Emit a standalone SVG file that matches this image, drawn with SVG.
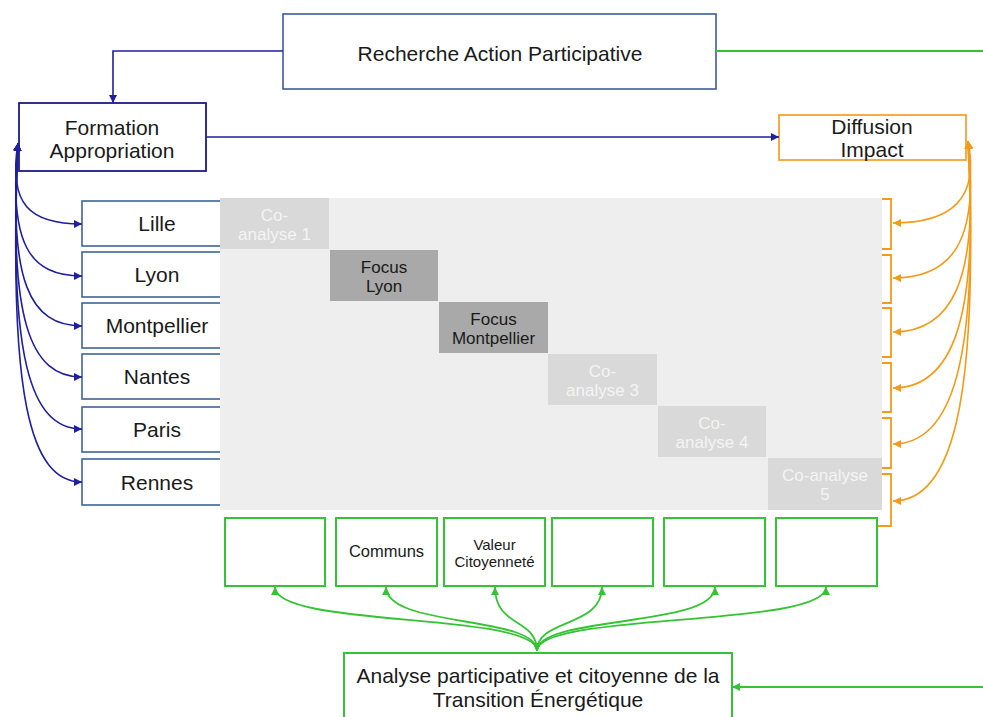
<svg xmlns="http://www.w3.org/2000/svg" width="983" height="717" viewBox="0 0 983 717">
<defs>
<style>
text{font-family:"Liberation Sans",Arial,sans-serif;text-anchor:middle;fill:#1a1a1a}
.big{font-size:21px}
.cell{font-size:17px}
.co{fill:#f4f4f4}
.city{fill:#fff;stroke:#3f6595;stroke-width:1.6}
.gbox{fill:#fff;stroke:#35c235;stroke-width:2}
.blue{fill:none;stroke:#1f1fa0;stroke-width:1.6}
.orange{fill:none;stroke:#f39a1b;stroke-width:1.6}
.green{fill:none;stroke:#33c433;stroke-width:1.8}
</style>
<marker id="ab" viewBox="0 0 10 10" refX="10" refY="5" markerWidth="8" markerHeight="8" markerUnits="userSpaceOnUse" orient="auto-start-reverse"><path d="M0,0 L10,5 L0,10 z" fill="#1f1fa0"/></marker>
<marker id="ao" viewBox="0 0 10 10" refX="10" refY="5" markerWidth="8" markerHeight="8" markerUnits="userSpaceOnUse" orient="auto-start-reverse"><path d="M0,0 L10,5 L0,10 z" fill="#f39a1b"/></marker>
<marker id="ag" viewBox="0 0 10 10" refX="10" refY="5" markerWidth="8" markerHeight="8" markerUnits="userSpaceOnUse" orient="auto-start-reverse"><path d="M0,0 L10,5 L0,10 z" fill="#33c433"/></marker>
</defs>
<rect width="983" height="717" fill="#fff"/>

<g id="recherche">
<rect x="283" y="14" width="433" height="75" fill="#fff" stroke="#3d5a99" stroke-width="1.6"/>
<text class="big" x="500" y="61">Recherche Action Participative</text>
</g>
<g id="formation">
<rect x="19" y="103" width="187" height="68" fill="#fff" stroke="#1c1c80" stroke-width="1.8"/>
<text class="big" x="112" y="135">Formation</text>
<text class="big" x="112" y="158">Appropriation</text>
</g>
<g id="diffusion">
<rect x="779" y="115" width="187" height="45" fill="#fff" stroke="#f5a235" stroke-width="1.8"/>
<text class="big" x="872" y="134">Diffusion</text>
<text class="big" x="872" y="157">Impact</text>
</g>

<g id="cities">
<g id="lille"><rect class="city" x="82" y="201" width="150" height="45"/><text class="big" x="157" y="231">Lille</text></g>
<g id="lyon"><rect class="city" x="82" y="252" width="150" height="45"/><text class="big" x="157" y="282">Lyon</text></g>
<g id="montpellier"><rect class="city" x="82" y="303" width="150" height="45"/><text class="big" x="157" y="333">Montpellier</text></g>
<g id="nantes"><rect class="city" x="82" y="354" width="150" height="45"/><text class="big" x="157" y="384">Nantes</text></g>
<g id="paris"><rect class="city" x="82" y="407" width="150" height="45"/><text class="big" x="157" y="437">Paris</text></g>
<g id="rennes"><rect class="city" x="82" y="459" width="150" height="46"/><text class="big" x="157" y="490">Rennes</text></g>
</g>

<g id="grid">
<rect x="220" y="198" width="662" height="312" fill="#eeeeee"/>
<g id="co1"><rect x="220" y="198" width="109" height="51" fill="#d9d9d9"/><text class="cell co" x="274.5" y="221">Co-</text><text class="cell co" x="274.5" y="240">analyse 1</text></g>
<g id="focus-lyon"><rect x="330" y="250" width="108" height="51" fill="#a9a9a9"/><text class="cell" x="384" y="273">Focus</text><text class="cell" x="384" y="292">Lyon</text></g>
<g id="focus-montpellier"><rect x="439" y="302" width="109" height="51" fill="#a9a9a9"/><text class="cell" x="493.5" y="325">Focus</text><text class="cell" x="493.5" y="344">Montpellier</text></g>
<g id="co3"><rect x="548" y="354" width="109" height="51" fill="#d9d9d9"/><text class="cell co" x="602.5" y="377">Co-</text><text class="cell co" x="602.5" y="396">analyse 3</text></g>
<g id="co4"><rect x="658" y="406" width="108" height="51" fill="#d9d9d9"/><text class="cell co" x="712" y="429">Co-</text><text class="cell co" x="712" y="448">analyse 4</text></g>
<g id="co5"><rect x="768" y="458" width="114" height="52" fill="#d9d9d9"/><text class="cell co" x="825" y="481">Co-analyse</text><text class="cell co" x="825" y="500">5</text></g>
</g>

<g id="brackets" fill="none" stroke="#f39a1b" stroke-width="1.8">
<path d="M882,199 H891 V249 H882"/>
<path d="M882,255 H891 V303 H882"/>
<path d="M882,308 H891 V357 H882"/>
<path d="M882,363 H891 V412 H882"/>
<path d="M882,418 H891 V468 H882"/>
<path d="M882,474 H891 V526 H877"/>
</g>

<g id="themes">
<g id="t1"><rect class="gbox" x="225" y="518" width="100" height="68"/></g>
<g id="t2"><rect class="gbox" x="336" y="518" width="101" height="68"/><text x="386.5" y="557" style="font-size:16.5px">Communs</text></g>
<g id="t3"><rect class="gbox" x="444" y="518" width="101" height="68"/><text x="494.5" y="550" style="font-size:15px">Valeur</text><text x="494.5" y="567" style="font-size:15px">Citoyenneté</text></g>
<g id="t4"><rect class="gbox" x="552" y="518" width="101" height="68"/></g>
<g id="t5"><rect class="gbox" x="664" y="518" width="101" height="68"/></g>
<g id="t6"><rect class="gbox" x="776" y="518" width="101" height="68"/></g>
</g>

<g id="analyse">
<rect x="344" y="653" width="388" height="80" fill="#fff" stroke="#35c235" stroke-width="2"/>
<text class="big" x="538" y="683">Analyse participative et citoyenne de la</text>
<text class="big" x="538" y="707">Transition Énergétique</text>
</g>

<g id="connectors">
<path class="blue" d="M283,51 H113 V103" marker-end="url(#ab)"/>
<path class="blue" d="M206,137 H779" marker-end="url(#ab)"/>
<path class="green" d="M716,51 H995"/>
<path class="green" d="M995,687 H732" marker-end="url(#ag)"/>

<path class="blue" d="M18,143 C8,205 30,224 82,224" marker-start="url(#ab)" marker-end="url(#ab)"/>
<path class="blue" d="M18,143 C8,245 30,276 82,276" marker-start="url(#ab)" marker-end="url(#ab)"/>
<path class="blue" d="M18,143 C8,282 30,326 82,326" marker-start="url(#ab)" marker-end="url(#ab)"/>
<path class="blue" d="M18,143 C8,320 30,377 82,377" marker-start="url(#ab)" marker-end="url(#ab)"/>
<path class="blue" d="M18,143 C8,358 30,429 82,429" marker-start="url(#ab)" marker-end="url(#ab)"/>
<path class="blue" d="M18,143 C8,397 30,482 82,482" marker-start="url(#ab)" marker-end="url(#ab)"/>

<path class="orange" d="M968,141 C980,200 950,223 893,223" marker-start="url(#ao)" marker-end="url(#ao)"/>
<path class="orange" d="M968,141 C980,244 950,278 893,278" marker-start="url(#ao)" marker-end="url(#ao)"/>
<path class="orange" d="M968,141 C980,284 950,332 893,332" marker-start="url(#ao)" marker-end="url(#ao)"/>
<path class="orange" d="M968,141 C980,326 950,388 893,388" marker-start="url(#ao)" marker-end="url(#ao)"/>
<path class="orange" d="M968,141 C980,368 950,444 893,444" marker-start="url(#ao)" marker-end="url(#ao)"/>
<path class="orange" d="M968,141 C980,411 950,501 893,501" marker-start="url(#ao)" marker-end="url(#ao)"/>

<path class="green" d="M537,651 C537,612 275,628 275,587" marker-start="url(#ag)" marker-end="url(#ag)"/>
<path class="green" d="M537,651 C537,615 386,628 386,587" marker-start="url(#ag)" marker-end="url(#ag)"/>
<path class="green" d="M537,651 C537,618 495,628 495,587" marker-start="url(#ag)" marker-end="url(#ag)"/>
<path class="green" d="M537,651 C537,618 602,628 602,587" marker-start="url(#ag)" marker-end="url(#ag)"/>
<path class="green" d="M537,651 C537,615 715,628 715,587" marker-start="url(#ag)" marker-end="url(#ag)"/>
<path class="green" d="M537,651 C537,612 826,628 826,587" marker-start="url(#ag)" marker-end="url(#ag)"/>
</g>
</svg>
